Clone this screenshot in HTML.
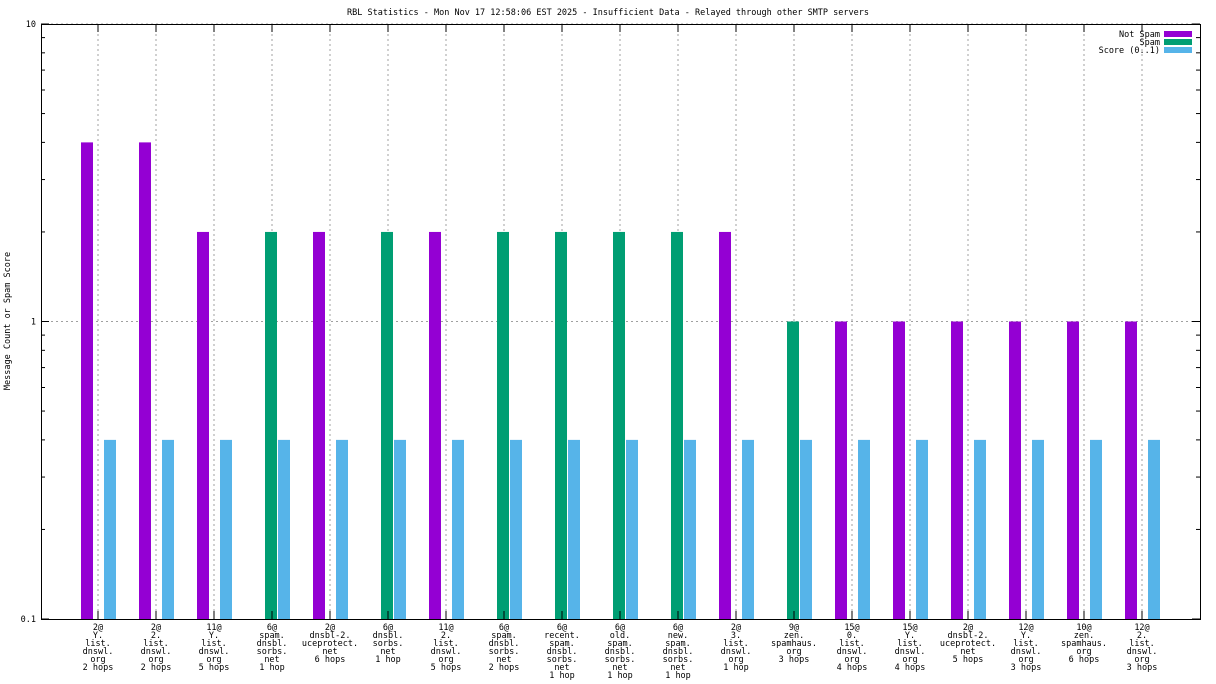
<!DOCTYPE html>
<html><head><meta charset="utf-8"><style>
html,body{margin:0;padding:0;background:#fff;}
svg{display:block;font-family:"DejaVu Sans Mono","Liberation Mono",monospace;font-size:8.5px;}
</style></head><body>
<svg id="chart" width="1216" height="684" xmlns="http://www.w3.org/2000/svg">
<text x="608" y="15" text-anchor="middle">RBL Statistics - Mon Nov 17 12:58:06 EST 2025 - Insufficient Data - Relayed through other SMTP servers</text>
<text transform="translate(10,321) rotate(-90)" text-anchor="middle">Message Count or Spam Score</text>
</svg>
<script>
const categories=[
["2@","Y.","list.","dnswl.","org","2 hops"],
["2@","2.","list.","dnswl.","org","2 hops"],
["11@","Y.","list.","dnswl.","org","5 hops"],
["6@","spam.","dnsbl.","sorbs.","net","1 hop"],
["2@","dnsbl-2.","uceprotect.","net","6 hops"],
["6@","dnsbl.","sorbs.","net","1 hop"],
["11@","2.","list.","dnswl.","org","5 hops"],
["6@","spam.","dnsbl.","sorbs.","net","2 hops"],
["6@","recent.","spam.","dnsbl.","sorbs.","net","1 hop"],
["6@","old.","spam.","dnsbl.","sorbs.","net","1 hop"],
["6@","new.","spam.","dnsbl.","sorbs.","net","1 hop"],
["2@","3.","list.","dnswl.","org","1 hop"],
["9@","zen.","spamhaus.","org","3 hops"],
["15@","0.","list.","dnswl.","org","4 hops"],
["15@","Y.","list.","dnswl.","org","4 hops"],
["2@","dnsbl-2.","uceprotect.","net","5 hops"],
["12@","Y.","list.","dnswl.","org","3 hops"],
["10@","zen.","spamhaus.","org","6 hops"],
["12@","2.","list.","dnswl.","org","3 hops"]];
const notSpam=[4,4,2,0,2,0,2,0,0,0,0,2,0,1,1,1,1,1,1];
const spam=[0,0,0,2,0,2,0,2,2,2,2,0,1,0,0,0,0,0,0];
const score=[0.4,0.4,0.4,0.4,0.4,0.4,0.4,0.4,0.4,0.4,0.4,0.4,0.4,0.4,0.4,0.4,0.4,0.4,0.4];
const yTicks=[0.1,1,10];
const yTickLabels=["0.1","1","10"];

const svg=document.getElementById('chart');
const NS="http://www.w3.org/2000/svg";
const L=41,R=1200,T=24,B=619;
const yScale=v=>B-(Math.log10(v)-(-1))*(B-T)/2;
const xScale=i=>98+i*58;
function mk(tag,attrs){const e=document.createElementNS(NS,tag);for(const k in attrs)e.setAttribute(k,attrs[k]);svg.appendChild(e);return e;}

// grid lines
for(let i=0;i<categories.length;i++){
  const g=mk('line',{x1:xScale(i),x2:xScale(i),y1:T,y2:B,stroke:'#a0a0a0','stroke-dasharray':'2,3','stroke-width':1});
  
  
}
yTicks.forEach((v,i)=>{
  const y=yScale(v);
  if(v!==0.1){const g=mk('line',{x1:L,x2:R,y1:y,y2:y,stroke:'#a0a0a0','stroke-dasharray':'2,3','stroke-width':1});
  
  }
  const t=mk('text',{x:L-5,y:y+3,'text-anchor':'end'});t.textContent=yTickLabels[i];
  
  
});
// bars
const series=[[notSpam,'#9400d3',-17,'bar-not-spam'],[spam,'#009e73',-7,'bar-spam'],[score,'#56b4e9',6,'bar-score']];
series.forEach(([arr,col,off,name])=>{
  arr.forEach((v,i)=>{
    if(!(v>0))return;
    const y=yScale(v);
    const r=mk('rect',{x:xScale(i)+off,y:y,width:12,height:B-y,fill:col});
    
    
  });
});
// axes ticks
for(let d=-1;d<1;d++){for(let m=2;m<=9;m++){const y=yScale(m*Math.pow(10,d));
  mk('line',{x1:L,x2:L+4,y1:y,y2:y,stroke:'#000'});mk('line',{x1:R-4,x2:R,y1:y,y2:y,stroke:'#000'});}}
yTicks.forEach(v=>{const y=yScale(v);mk('line',{x1:L,x2:L+8,y1:y,y2:y,stroke:'#000'});mk('line',{x1:R-8,x2:R,y1:y,y2:y,stroke:'#000'});});
categories.forEach((lines,i)=>{
  const x=xScale(i);
  mk('line',{x1:x,x2:x,y1:B-8,y2:B,stroke:'#000'});
  mk('line',{x1:x,x2:x,y1:T,y2:T+8,stroke:'#000'});
  const t=mk('text',{'text-anchor':'middle'});
  
  
  lines.forEach((s,j)=>{const ts=document.createElementNS(NS,'tspan');ts.setAttribute('x',x);ts.setAttribute('y',630+j*8);ts.textContent=s;t.appendChild(ts);});
});
const fr=mk('rect',{x:L+0.5,y:T+0.5,width:R-L,height:B-T,fill:'none',stroke:'#000'});


// legend
[['Not Spam','#9400d3'],['Spam','#009e73'],['Score (0..1)','#56b4e9']].forEach(([lab,col],i)=>{
  const y=34+i*8;
  const t=mk('text',{x:1160,y:y+3,'text-anchor':'end'});t.textContent=lab;
  
  
  mk('rect',{x:1164,y:y-3,width:28,height:6,fill:col});
});
</script>
</body></html>
